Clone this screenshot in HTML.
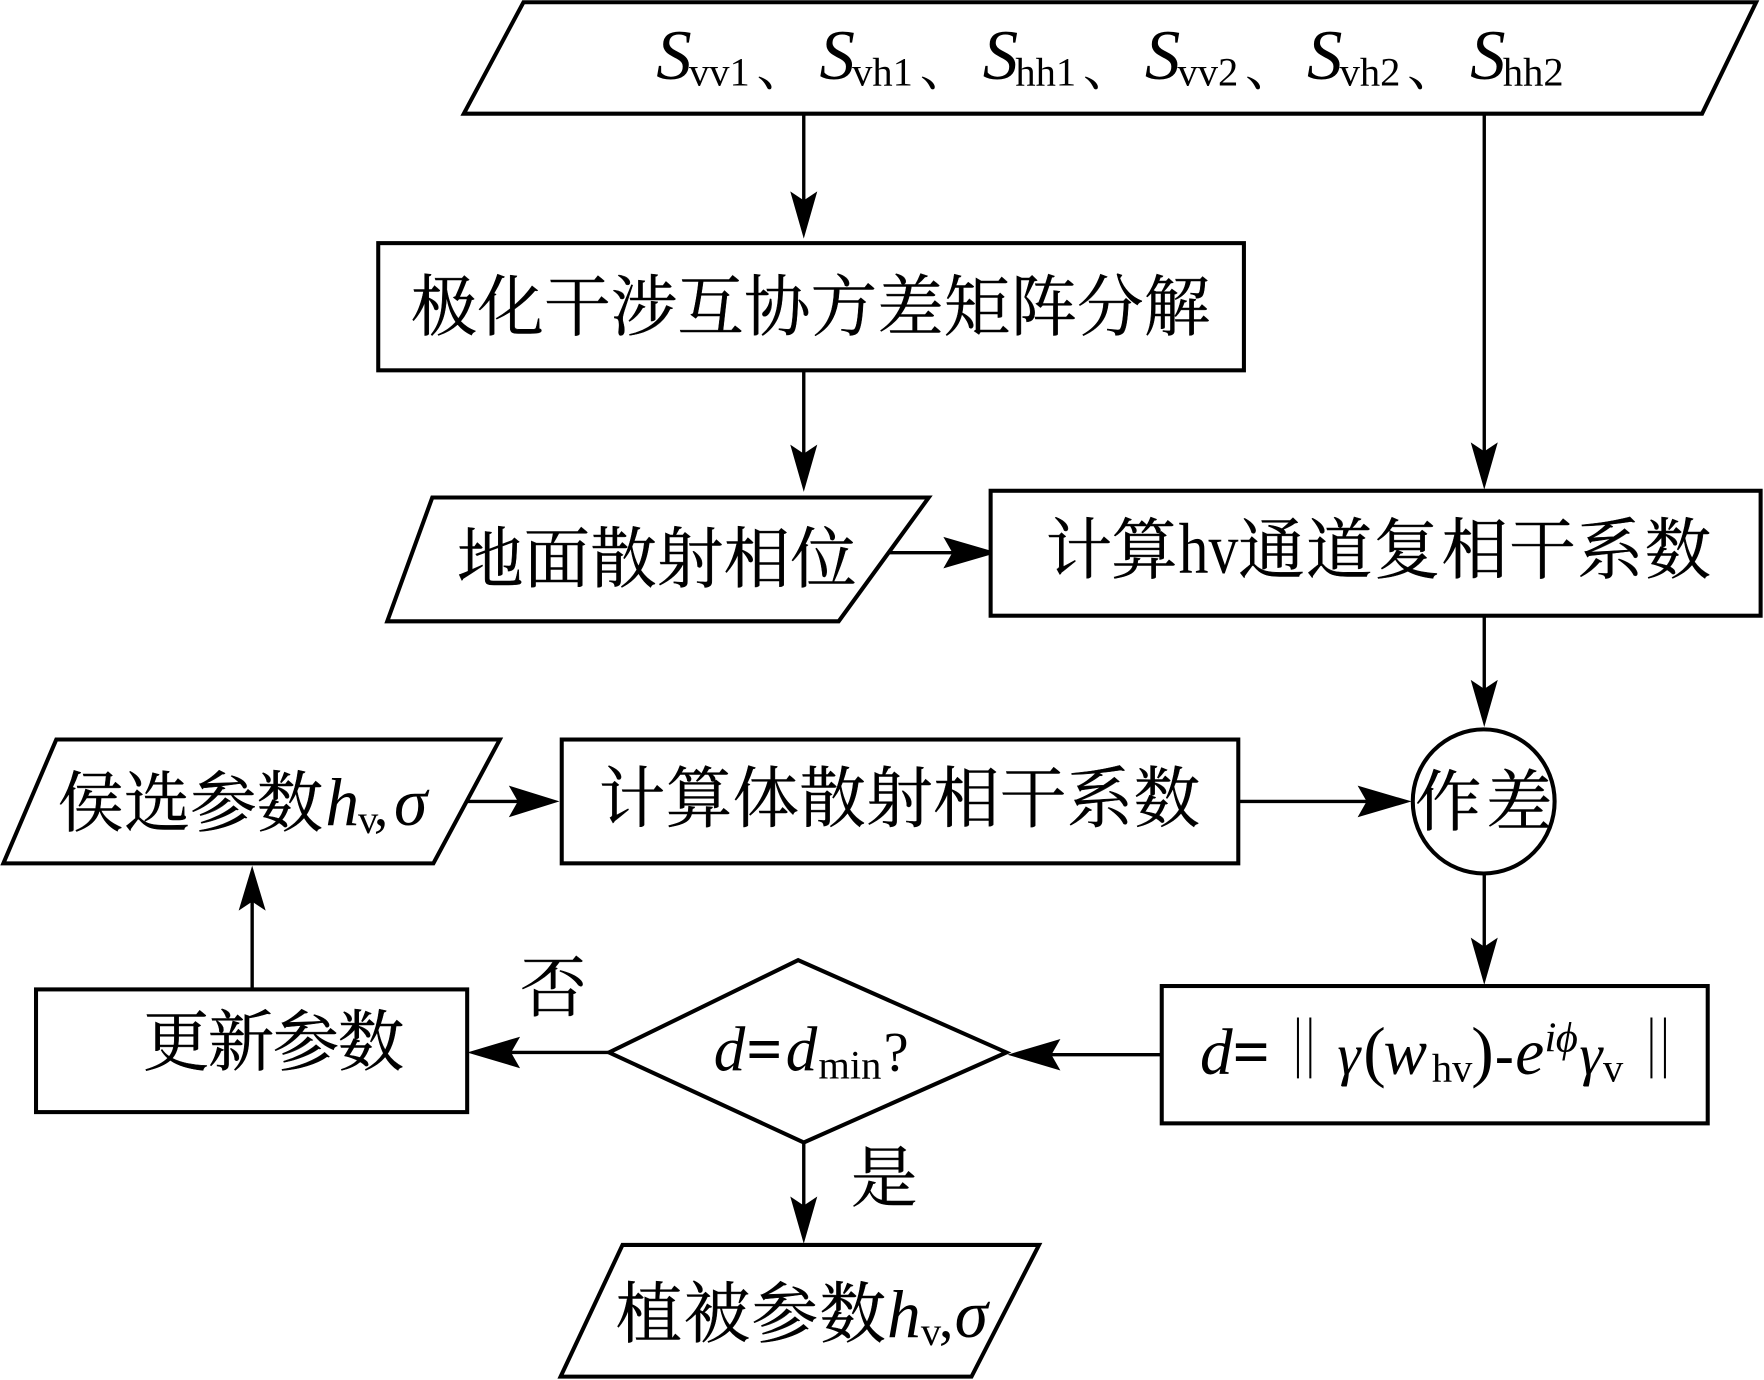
<!DOCTYPE html>
<html><head><meta charset="utf-8"><style>
html,body{margin:0;padding:0;background:#fff}
svg{display:block}
.c{font-family:"Liberation Serif","Noto Serif CJK SC",serif;font-size:59px;fill:#000;stroke:#000;stroke-width:.4}
.p{font-family:"Noto Serif CJK SC",serif;font-size:46px;fill:#000}
.t{font-family:"Liberation Serif",serif;fill:#000}
.i{font-family:"Liberation Serif",serif;font-style:italic;fill:#000}
.s{stroke:#000;stroke-width:3.6;fill:#fff}
.l{stroke:#000;stroke-width:3;fill:none}
</style></head><body>
<svg width="1764" height="1380" viewBox="0 0 1567 1226" preserveAspectRatio="none" xmlns="http://www.w3.org/2000/svg">
<!-- connectors -->
<path class="l" d="M714 101V195M1318.500 101V415M714 329V420M790 491H860M1318.500 547V630M415 712H470M1100 712H1230M1318.500 776V858M1032 937H925M541 935H445M224 879V795M714 1015V1090"/>
<!-- arrowheads -->
<g fill="#000">
<path d="M714 212L702 170L714 178L726 170Z"/>
<path d="M1318.500 435L1306.500 393L1318.500 401L1330.500 393Z"/>
<path d="M714 437L702 395L714 403L726 395Z"/>
<path d="M886 491L838 477L846 491L838 505Z"/>
<path d="M1318.500 646L1306.500 604L1318.500 612L1330.500 604Z"/>
<path d="M497 712L452 698L460 712L452 726Z"/>
<path d="M1254 712L1206 698L1214 712L1206 726Z"/>
<path d="M1318.500 875L1306.500 833L1318.500 841L1330.500 833Z"/>
<path d="M895 937L942 923L934 937L942 951Z"/>
<path d="M415 935L462 921L454 935L462 949Z"/>
<path d="M224 769L212 809L224 801L236 809Z"/>
<path d="M714 1105L702 1063L714 1071L726 1063Z"/>
</g>
<!-- shapes -->
<polygon class="s" points="412,101 465,2 1560,2 1512,101"/>
<rect class="s" x="336" y="216" width="769" height="113"/>
<polygon class="s" points="344,552 384,442 825,442 745,552"/>
<rect class="s" x="880" y="436" width="684" height="111"/>
<polygon class="s" points="3,767 50,657 444,657 385,767"/>
<rect class="s" x="499" y="657" width="601" height="110"/>
<ellipse class="s" cx="1318" cy="712" rx="63" ry="64"/>
<rect class="s" x="1032" y="876" width="485" height="122"/>
<polygon class="s" points="541,935 709,853 894,935 714,1015"/>
<rect class="s" x="32" y="879" width="383" height="109"/>
<polygon class="s" points="498,1223 553,1106 923,1106 863,1223"/>
<!-- main labels -->
<text class="c" x="365" y="293" textLength="710">极化干涉互协方差矩阵分解</text>
<text class="c" x="406" y="517" textLength="355">地面散射相位</text>
<text class="c" x="929" y="509" textLength="117">计算</text>
<text class="t" x="1047" y="509" font-size="64" textLength="53" lengthAdjust="spacingAndGlyphs">hv</text>
<text class="c" x="1100" y="509" textLength="420">通道复相干系数</text>
<text class="c" x="51" y="734" textLength="236">侯选参数</text>
<text class="i" x="289" y="733" font-size="60">h</text>
<text class="t" x="318" y="740" font-size="36">v</text>
<text class="t" x="332" y="733" font-size="52">,</text>
<text class="i" x="350" y="733" font-size="60">σ</text>
<text class="c" x="532" y="730" textLength="534">计算体散射相干系数</text>
<text class="c" x="1257" y="733" textLength="122">作差</text>
<text class="c" x="127" y="946" textLength="232">更新参数</text>
<text class="c" x="462" y="898">否</text>
<text class="c" x="756" y="1067">是</text>
<text class="c" x="547" y="1188" textLength="240">植被参数</text>
<text class="i" x="788" y="1188" font-size="60">h</text>
<text class="t" x="818" y="1195" font-size="36">v</text>
<text class="t" x="834" y="1188" font-size="52">,</text>
<text class="i" x="848" y="1188" font-size="60">σ</text>
<!-- top inputs -->
<g>
<text class="i" x="583" y="70" font-size="63">S</text><text class="t" x="612" y="76" font-size="36">vv1</text><text class="p" x="672" y="76">、</text>
<text class="i" x="728" y="70" font-size="63">S</text><text class="t" x="757" y="76" font-size="36">vh1</text><text class="p" x="817" y="76">、</text>
<text class="i" x="873" y="70" font-size="63">S</text><text class="t" x="902" y="76" font-size="36">hh1</text><text class="p" x="962" y="76">、</text>
<text class="i" x="1017" y="70" font-size="63">S</text><text class="t" x="1046" y="76" font-size="36">vv2</text><text class="p" x="1106" y="76">、</text>
<text class="i" x="1161" y="70" font-size="63">S</text><text class="t" x="1190" y="76" font-size="36">vh2</text><text class="p" x="1250" y="76">、</text>
<text class="i" x="1306" y="70" font-size="63">S</text><text class="t" x="1335" y="76" font-size="36">hh2</text>
</g>
<!-- decision -->
<text class="i" x="634" y="951" font-size="56">d</text>
<text class="t" x="663" y="951" font-size="56" font-weight="bold">=</text>
<text class="i" x="698" y="951" font-size="56">d</text>
<text class="t" x="727" y="958" font-size="36">min</text>
<text class="t" x="785" y="951" font-size="50">?</text>
<!-- formula -->
<text class="i" x="1066" y="954" font-size="58">d</text>
<text class="t" x="1095" y="954" font-size="58" font-weight="bold">=</text>
<path stroke="#000" stroke-width="1.800" d="M1153 904V958M1164 904V958M1467 904V958M1479 904V958"/>
<text class="i" x="1188" y="954" font-size="52">γ</text>
<text class="t" x="1211" y="954" font-size="60">(</text>
<text class="i" x="1229" y="954" font-size="58">w</text>
<text class="t" x="1272" y="961" font-size="36">hv</text>
<text class="t" x="1307" y="954" font-size="60">)</text>
<text class="t" x="1328" y="954" font-size="50" font-weight="bold">-</text>
<text class="i" x="1346" y="954" font-size="58">e</text>
<text class="i" x="1372" y="934" font-size="38">i</text>
<text class="i" x="1382" y="934" font-size="38">ϕ</text>
<text class="i" x="1403" y="954" font-size="52">γ</text>
<text class="t" x="1424" y="961" font-size="36">v</text>
</svg>
</body></html>
